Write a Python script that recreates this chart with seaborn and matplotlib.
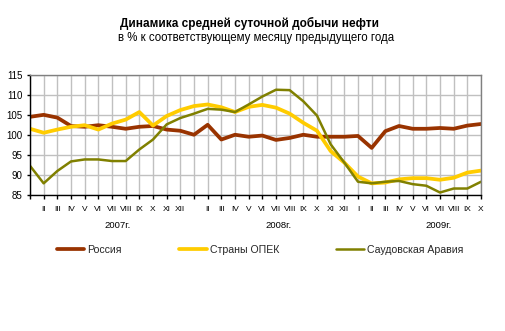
import matplotlib
matplotlib.use("Agg")
import matplotlib.pyplot as plt
import matplotlib.transforms as mtransforms
import numpy as np
import pandas as pd
import seaborn as sns

# Monthly average daily oil output, % of the same month a year earlier (Jan 2007 - Oct 2009)
russia = [104.5, 105.0, 104.3, 102.2, 102.0, 102.4, 102.0, 101.5, 102.0, 102.2, 101.3, 101.0,
          100.0, 102.5, 98.8, 100.0, 99.5, 99.8, 98.7, 99.2, 100.0, 99.5, 99.5, 99.5,
          99.7, 96.7, 100.9, 102.2, 101.5, 101.5, 101.7, 101.5, 102.3, 102.7]
opec = [101.5, 100.5, 101.3, 102.0, 102.4, 101.3, 102.8, 103.8, 105.7, 102.3, 104.7, 106.2,
        107.2, 107.6, 106.9, 105.7, 107.0, 107.5, 106.8, 105.3, 103.0, 101.0, 95.9, 93.0,
        89.5, 87.8, 88.0, 88.8, 89.1, 89.1, 88.7, 89.2, 90.5, 91.0]
saudi = [92.2, 87.8, 90.9, 93.3, 93.8, 93.8, 93.4, 93.4, 96.3, 98.8, 102.6, 104.2,
         105.3, 106.5, 106.3, 105.7, 107.6, 109.6, 111.3, 111.2, 108.4, 104.8, 97.6, 93.0,
         88.2, 87.8, 88.2, 88.4, 87.6, 87.2, 85.5, 86.5, 86.5, 88.2]

series_names = ["Россия", "Страны ОПЕК", "Саудовская Аравия"]
month_labels = ["", "II", "III", "IV", "V", "VI", "VII", "VIII", "IX", "X", "XI", "XII",
                "", "II", "III", "IV", "V", "VI", "VII", "VIII", "IX", "X", "XI", "XII",
                "I", "II", "III", "IV", "V", "VI", "VII", "VIII", "IX", "X"]
year_labels = ["2007г.", "2008г.", "2009г."]
year_centers = [6.4, 18.2, 29.9]
y_ticks = [85, 90, 95, 100, 105, 110, 115]

title = "Динамика средней суточной добычи нефти"
subtitle = "в % к соответствующему месяцу предыдущего года"

n = len(russia)
df = pd.DataFrame({
    "month": np.tile(np.arange(n), 3),
    "value": russia + opec + saudi,
    "series": np.repeat(series_names, n),
})

colors = {"Россия": "#993300", "Страны ОПЕК": "#FFCC00", "Саудовская Аравия": "#808000"}
widths = {"Россия": 2.7, "Страны ОПЕК": 2.7, "Саудовская Аравия": 1.8}

sns.set_theme(style="white")
plt.rcParams["font.family"] = ["Liberation Sans", "DejaVu Sans"]

fig = plt.figure(figsize=(5.06, 3.31), dpi=100)
ax = fig.add_axes([30 / 506, 1 - 194.5 / 331, 451 / 506, 119.5 / 331])

for name in series_names:
    sns.lineplot(data=df[df["series"] == name], x="month", y="value",
                 color=colors[name], linewidth=widths[name], label=name,
                 ax=ax, legend=False, solid_joinstyle="round")

ax.set_xlim(0, n - 1)
ax.set_ylim(85, 115)
ax.set_xticks(np.arange(n))
ax.set_xticklabels(month_labels, fontsize=6, color="black")
ax.set_yticks(y_ticks)
ax.set_yticklabels([str(v) for v in y_ticks], fontsize=7, color="black")
ax.set_xlabel("")
ax.set_ylabel("")

ax.grid(True, color="#C0C0C0", linewidth=1.0)
ax.set_axisbelow(True)
for side in ("left", "bottom"):
    ax.spines[side].set_color("black")
    ax.spines[side].set_linewidth(1.0)
for side in ("top", "right"):
    ax.spines[side].set_color("#808080")
    ax.spines[side].set_linewidth(1.0)

ax.tick_params(axis="x", bottom=True, direction="out", length=3, width=1,
               color="black", pad=5)
ax.tick_params(axis="y", left=True, direction="out", length=2.5, width=1,
               color="black", pad=3)

trans = mtransforms.blended_transform_factory(ax.transData, fig.transFigure)
for lbl, xc in zip(year_labels, year_centers):
    ax.text(xc, 1 - 225 / 331, lbl, transform=trans, ha="center", va="center",
            fontsize=6.8, color="black")

fig.text(250 / 506, 1 - 23.5 / 331, title, ha="center", va="center",
         fontsize=8.5, fontweight="bold", color="black")
fig.text(256 / 506, 1 - 38 / 331, subtitle, ha="center", va="center",
         fontsize=8.3, color="black")

handles, labels = ax.get_legend_handles_labels()
fig.legend(handles, labels, loc="center", bbox_to_anchor=(260 / 506, 1 - 250 / 331),
           ncol=3, frameon=False, fontsize=7.6, handlelength=2.6, handletextpad=0.3,
           columnspacing=5.4, borderpad=0)

fig.savefig("out.png", dpi=100, facecolor="white")
